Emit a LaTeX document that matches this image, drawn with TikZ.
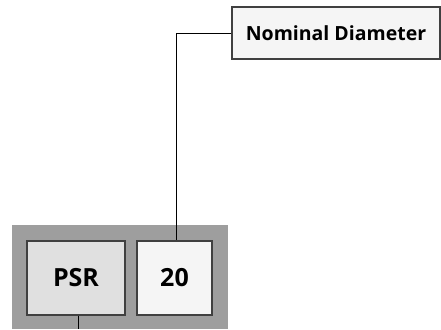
\documentclass[tikz,border=0pt]{standalone}
\usepackage{fontspec}
\setmainfont{Open Sans}
\begin{document}
\begin{tikzpicture}[x=1pt,y=-1pt,
  boxst/.style={draw=black!75,line width=1.1pt,inner sep=0pt},
  conn/.style={draw=black,line width=0.9pt}]
\useasboundingbox (0,0) rectangle (441,329);
\fill[black!38] (12,225) rectangle (228,329);
\node[boxst,fill=black!12,minimum width=98pt,minimum height=74pt,font=\bfseries\fontsize{25}{28}\selectfont] (psr) at (76,278) {PSR};
\node[boxst,fill=black!4,minimum width=75pt,minimum height=74pt,font=\bfseries\fontsize{25}{28}\selectfont] (num) at (174.5,278) {20};
\node[boxst,fill=black!4,minimum width=208pt,minimum height=52pt,font=\bfseries\fontsize{19.5}{22}\selectfont] (nom) at (336,33) {Nominal Diameter};
\coordinate (bend) at (176,33);
\coordinate (bot) at (78,329);
\draw[conn] (nom.west) -- (bend) -- (num.north -| bend);
\draw[conn] (psr.south -| bot) -- (bot);
\end{tikzpicture}
\end{document}
